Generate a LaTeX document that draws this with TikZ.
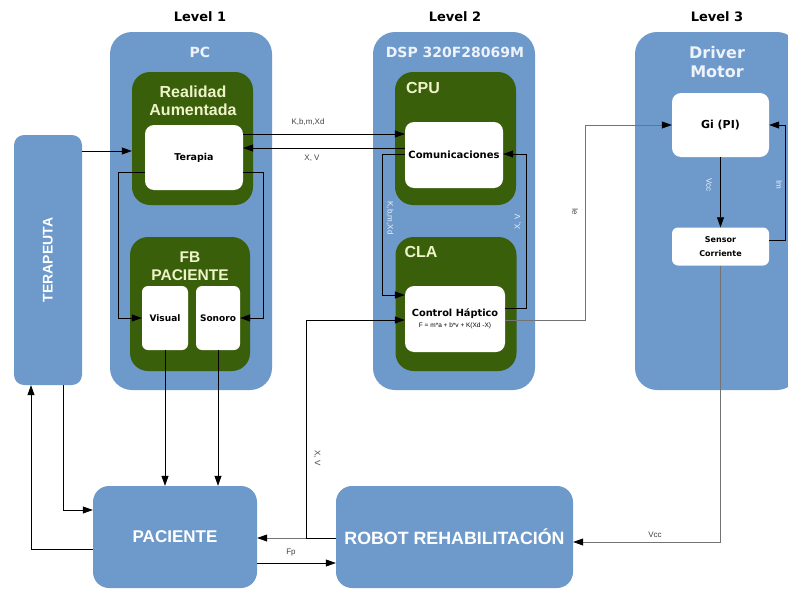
\documentclass[tikz,border=0pt]{standalone}
\usepackage{fontspec}
\setmainfont{Liberation Sans}
\newfontfamily\dv{DejaVu Sans}
\usetikzlibrary{arrows.meta}
\definecolor{bblue}{HTML}{6D9ACB}
\definecolor{dgreen}{HTML}{3A5F0B}
\definecolor{paleg}{HTML}{EEF3C8}
\definecolor{palew}{HTML}{EEF2FA}
\tikzset{
  bigbox/.style={fill=bblue, rounded corners=22pt, inner sep=0pt},
  grbox/.style={fill=dgreen, rounded corners=18pt, inner sep=0pt},
  whbox/.style={fill=white, rounded corners=9pt, inner sep=0pt, font=\dv\bfseries\fontsize{9.5}{10}\selectfont},
  lowbox/.style={fill=bblue, rounded corners=16pt, inner sep=0pt, text=white, font=\bfseries\fontsize{17}{19}\selectfont},
  lvl/.style={font=\dv\bfseries\fontsize{13}{15}\selectfont},
  btitle/.style={text=palew, font=\dv\bfseries\fontsize{14}{16}\selectfont, align=center},
  gtitle/.style={text=paleg, font=\bfseries\fontsize{16}{18}\selectfont, align=center},
  arr/.style={draw=black, line width=0.7pt, -{Triangle[length=10pt,width=7pt]}},
  garr/.style={draw=black!55, line width=0.7pt, -{Triangle[length=10pt,width=7pt,color=black]}},
  lab/.style={font=\fontsize{8}{9}\selectfont, text=black!75, inner sep=1pt},
  plab/.style={font=\fontsize{8}{9}\selectfont, text=palew, inner sep=1pt},
}
\begin{document}
\begin{tikzpicture}[x=1pt,y=-1pt]
\useasboundingbox (0,0) rectangle (788,589);
\clip (0,0) rectangle (788,589);
% level labels
\node[lvl] (l1) at (200,17) {Level 1};
\node[lvl] (l2) at (455,17) {Level 2};
\node[lvl] (l3) at (717,17) {Level 3};
% big containers
\node[bigbox, minimum width=162pt, minimum height=358pt] (pc) at (191,211) {};
\node[bigbox, minimum width=162pt, minimum height=358pt] (dsp) at (454,211) {};
\node[bigbox, minimum width=164pt, minimum height=358pt] (drv) at (717,211) {};
\node[fill=bblue, rounded corners=10pt, minimum width=68pt, minimum height=250pt, inner sep=0pt] (terap) at (48,260) {};
\node[text=white, font=\bfseries\fontsize{14}{16}\selectfont, rotate=90] (terapt) at (48,260) {TERAPEUTA};
\node[btitle] (pct) at (200,52) {PC};
\node[btitle] (dspt) at (455,52) {DSP 320F28069M};
\node[btitle, font=\dv\bfseries\fontsize{16}{19}\selectfont] (drvt) at (717,62) {Driver\\Motor};
% green boxes
\node[grbox, minimum width=121pt, minimum height=133pt] (ra) at (192.5,138.5) {};
\node[grbox, minimum width=120pt, minimum height=134pt] (fb) at (190,304) {};
\node[grbox, minimum width=121pt, minimum height=133pt] (cpu) at (455.5,138.5) {};
\node[grbox, minimum width=121pt, minimum height=134pt] (cla) at (456,304) {};
\node[gtitle] (rat) at (193,101) {Realidad\\Aumentada};
\node[gtitle, font=\bfseries\fontsize{15.5}{17.5}\selectfont] (fbt) at (190,266) {FB\\PACIENTE};
\node[gtitle] (cput) at (423,88) {CPU};
\node[gtitle] (clat) at (421,252) {CLA};
% white boxes
\node[whbox, minimum width=98pt, minimum height=65pt] (terapia) at (194,157.5) {Terapia};
\node[whbox, rounded corners=6pt, minimum width=46pt, minimum height=64pt, font=\dv\bfseries\fontsize{9}{10}\selectfont] (visual) at (165,318) {Visual};
\node[whbox, rounded corners=6pt, minimum width=44pt, minimum height=64pt, font=\dv\bfseries\fontsize{9}{10}\selectfont] (sonoro) at (218,318) {Sonoro};
\node[whbox, minimum width=98pt, minimum height=66pt, font=\dv\bfseries\fontsize{10}{11}\selectfont] (com) at (454,155) {Comunicaciones};
\node[whbox, minimum width=100pt, minimum height=66pt] (ctrl) at (455,319) {};
\node[font=\dv\bfseries\fontsize{9.8}{10}\selectfont, inner sep=0pt] (ctrlt) at (455,314) {Control Háptico};
\node[font=\fontsize{6.5}{7}\selectfont, inner sep=0pt] (ctrlf) at (455,326) {F = m*a + b*v + K(Xd -X)};
\node[whbox, minimum width=97pt, minimum height=64pt, font=\dv\bfseries\fontsize{11}{12}\selectfont] (gi) at (720.5,125) {Gi (PI)};
\node[whbox, rounded corners=6pt, minimum width=97pt, minimum height=38pt, font=\dv\bfseries\fontsize{8}{14}\selectfont, align=center] (sens) at (720.5,246.5) {Sensor\\Corriente};
% bottom boxes
\node[lowbox, minimum width=164pt, minimum height=102pt] (pac) at (175,537) {PACIENTE};
\node[lowbox, minimum width=237pt, minimum height=102pt, font=\bfseries\fontsize{17.8}{19}\selectfont] (robot) at (454.5,537) {ROBOT REHABILITACIÓN};
% connectors
\draw[arr] (terap.east |- 0,151) -- (ra.west |- 0,151);
\draw[arr] (terapia.east |- 0,134) -- (com.west |- 0,134);
\draw[arr] (com.west |- 0,148) -- (terapia.east |- 0,148);
\draw[arr] (terapia.west |- 0,172) -- (118,172) |- (visual.west);
\draw[arr] (terapia.east |- 0,172) -- (263,172) |- (sonoro.east);
\draw[arr] (visual.south) -- (visual.south |- pac.north);
\draw[arr] (sonoro.south) -- (sonoro.south |- pac.north);
\draw[arr] (terap.south -| 63,0) |- (pac.west |- 0,510);
\draw[arr] (pac.west |- 0,549) -| (terap.south -| 31,0);
\draw[garr] (robot.west |- 0,538) -- (pac.east |- 0,538);
\draw[arr] (pac.east |- 0,563) -- (robot.west |- 0,563);
\draw[arr] (robot.west |- 0,538) -| (306,320) -- (ctrl.west |- 0,320);
\draw[arr] (com.west |- 0,154) -- (382,154) |- (ctrl.west |- 0,295);
\draw[arr] (ctrl.east |- 0,308) -- (526,308) |- (com.east |- 0,154);
\draw[garr] (ctrl.east |- 0,320) -- (585,320) |- (gi.west);
\draw[arr] (gi.south) -- (sens.north);
\draw[arr] (sens.east |- 0,240) -| (785,125) -- (gi.east);
\draw[garr] (sens.south) |- (robot.east |- 0,542);
% labels
\node[lab] (lk1) at (308,122) {K,b,m,Xd};
\node[lab] (lxv1) at (312,158) {X, V};
\node[plab, rotate=-90] (lk2) at (390,218) {K,b,m,Xd};
\node[plab, rotate=90] (lxv2) at (518,222) {X, V};
\node[lab, rotate=-90] (lie) at (575,212) {Ie};
\node[plab, rotate=-90] (lvcc1) at (709,185) {Vcc};
\node[plab, rotate=-90] (lim) at (779,185) {Im};
\node[lab, rotate=-90] (lxv3) at (317,458) {X, V};
\node[lab] (lfp) at (291,553) {Fp};
\node[lab] (lvcc2) at (655,535) {Vcc};
\end{tikzpicture}
\end{document}
